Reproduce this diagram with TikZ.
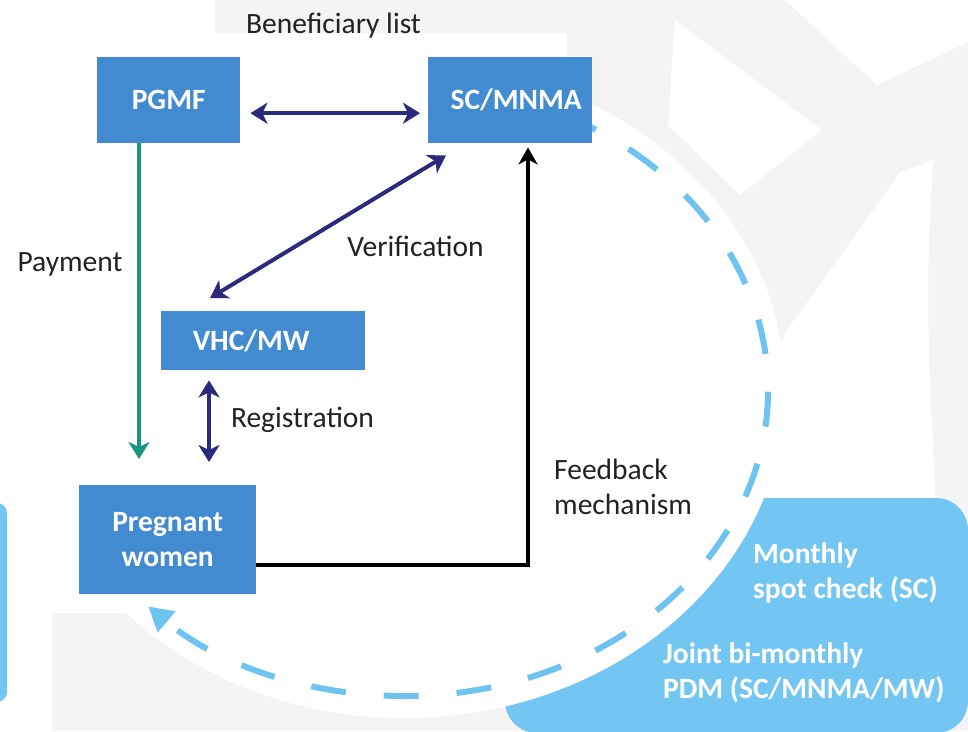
\documentclass[tikz,border=0pt]{standalone}
\usepackage{fontspec}
\setmainfont{Carlito}
\usetikzlibrary{arrows.meta,calc}
\definecolor{boxblue}{HTML}{428BD0}
\definecolor{navy}{HTML}{2B2A7C}
\definecolor{tealc}{HTML}{1A9583}
\definecolor{lightblue}{HTML}{73C6F2}
\definecolor{dashblue}{HTML}{6EC3F0}
\definecolor{bggrey}{HTML}{F4F4F4}
\definecolor{txt}{HTML}{222222}
\begin{document}
\begin{tikzpicture}[x=1pt,y=-1pt,
  box/.style={fill=boxblue,text=white,font=\bfseries,inner sep=0pt,anchor=north west},
  onebox/.style={box,text height=19pt,text depth=0pt},
  lbl/.style={text=txt,anchor=base,inner sep=0pt},
  wlbl/.style={text=white,font=\bfseries,anchor=base west,align=left,inner sep=0pt},
  biarrow/.style={navy,line width=4pt,{Stealth[length=17pt,width=21pt,inset=5pt]}-{Stealth[length=17pt,width=21pt,inset=5pt]}},
  loopline/.style={dashblue,line width=6pt,dash pattern=on 35pt off 38pt,-{Triangle[length=24pt,width=26pt]}}]
\fontsize{29.5pt}{35pt}\selectfont
\useasboundingbox (0,0) rectangle (968,731);
\begin{scope}
\clip (0,0) rectangle (968,731);
% background watermark
\fill[bggrey] (0,0) rectangle (968,731);
\fill[white] (0,0) rectangle (215,33);
\fill[white] (0,33) rectangle (567,613);
\fill[white] (0,613) rectangle (52,731);
\fill[white] (785,0) -- (968,0) -- (968,42) -- (877,85) -- cycle;
\fill[white] (675,20) -- (822,130) -- (740,195) -- (668,125) -- cycle;
\fill[white] (787,330) -- (852,240) -- (900,172) -- (933,160) .. controls (926,300) .. (936,510) -- (700,510) -- cycle;
\fill[lightblue, rounded corners=10pt] (-30,503) rectangle (7,702);
\fill[lightblue, rounded corners=32pt] (505,498) rectangle (968,733);
\fill[white] (405,390) ellipse [x radius=380, y radius=328];
% dashed loop
\draw[loopline] (564.1,115.0) arc[start angle=-64, end angle=135, x radius=363, y radius=306];
\end{scope}
% boxes
\node[onebox,minimum width=143pt,minimum height=86pt] (pgmf) at (97,57) {PGMF};
\node[onebox,minimum width=164pt,minimum height=86pt] (sc) at (428,57) {\hspace*{12pt}SC/MNMA};
\node[onebox,minimum width=204pt,minimum height=59pt] (vhc) at (161,311) {VHC/MW\hspace*{24pt}};
\node[box,align=center,minimum width=177pt,minimum height=109pt] (pw) at (79,485) {Pregnant\\women};
% labels
\node[lbl] (benef) at (333.5,33) {Beneficiary list};
\node[lbl] (pay) at (70,271) {Payment};
\node[lbl] (verif) at (415.5,256) {Verification};
\node[lbl] (reg) at (302.5,427) {Registration};
\node[lbl,anchor=base west,align=left] (feed) at (554,514) {Feedback\\mechanism};
\node[wlbl] (monthly) at (753,598) {Monthly\\spot check (SC)};
\node[wlbl] (joint) at (663,698) {Joint bi-monthly\\PDM (SC/MNMA/MW)};
% connectors
\draw[biarrow] ($(pgmf.east)+(10,13)$) -- ($(sc.west)+(-8,13)$);
\draw[biarrow] ($(vhc.north west)+(49,-13)$) -- ($(sc.south west)+(18,12)$);
\draw[biarrow] ($(vhc.south west)+(48,10)$) -- ($(pw.north west)+(130,-23)$);
\draw[tealc,line width=4pt,-{Stealth[length=17pt,width=21pt,inset=5pt]}] ($(pgmf.south west)+(42,0)$) -- ($(pw.north west)+(60,-26)$);
\draw[black,line width=4pt,-{Stealth[length=17pt,width=19pt,inset=5pt]}] ($(pw.east)+(0,25)$) -| ($(sc.south west)+(100,4)$);
\end{tikzpicture}
\end{document}
